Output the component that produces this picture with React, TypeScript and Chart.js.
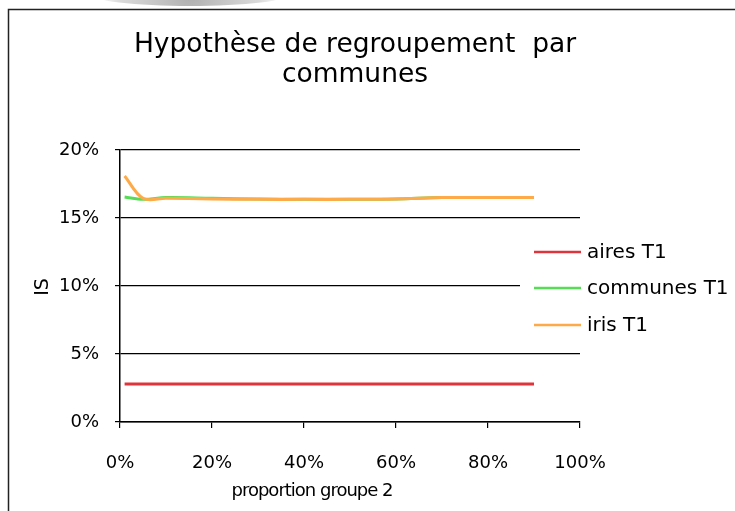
import React, { useEffect, useRef } from "react";
import { Chart, registerables } from "chart.js";

Chart.register(...registerables);

const proportions = [0.01, 0.05, 0.1, 0.2, 0.3, 0.4, 0.5, 0.6, 0.7, 0.8, 0.9];
const airesT1 = [0.028, 0.028, 0.028, 0.028, 0.028, 0.028, 0.028, 0.028, 0.028, 0.028, 0.028];
const communesT1 = [0.1655, 0.1637, 0.165, 0.1645, 0.164, 0.1638, 0.1638, 0.164, 0.165, 0.165, 0.165];
const irisT1 = [0.1809, 0.1645, 0.1645, 0.164, 0.1637, 0.1637, 0.1637, 0.164, 0.165, 0.165, 0.165];
const seriesNames = ["aires T1", "communes T1", "iris T1"];
const seriesColors = ["#e0343c", "#55dd55", "#ffaa48"];
const titleLines = ["Hypothèse de regroupement  par", "communes"];
const xTitle = "proportion groupe 2";
const yTitle = "IS";

const FONT = "'DejaVu Sans', Verdana, sans-serif";

const decorPlugin = {
  id: "decor",
  beforeDraw(chart: any) {
    const ctx = chart.ctx;
    ctx.save();
    ctx.fillStyle = "#ffffff";
    ctx.fillRect(0, 0, chart.width, chart.height);
    // grey smudge at top
    const g = ctx.createRadialGradient(190, -6, 0, 190, -6, 100);
    g.addColorStop(0, "rgba(160,160,160,0.85)");
    g.addColorStop(0.7, "rgba(180,180,180,0.5)");
    g.addColorStop(1, "rgba(210,210,210,0)");
    ctx.fillStyle = g;
    ctx.beginPath();
    ctx.ellipse(190, -6, 100, 12, 0, 0, Math.PI * 2);
    ctx.fill();
    // frame
    ctx.strokeStyle = "#222";
    ctx.lineWidth = 1.5;
    ctx.strokeRect(8.5, 9.5, chart.width + 20, chart.height + 20);
    ctx.restore();
  },
  afterDraw(chart: any) {
    const ctx = chart.ctx;
    ctx.save();
    ctx.fillStyle = "#000";
    ctx.textAlign = "center";
    ctx.textBaseline = "middle";
    ctx.font = `26.5px ${FONT}`;
    ctx.fillText(titleLines[0], 355, 45);
    ctx.fillText(titleLines[1], 355, 75);
    // x title
    ctx.font = `18px ${FONT}`;
    (ctx as any).letterSpacing = "-1px";
    ctx.fillText(xTitle, 312, 491);
    (ctx as any).letterSpacing = "0px";
    // y title
    ctx.save();
    ctx.translate(43, 287);
    ctx.rotate(-Math.PI / 2);
    ctx.font = `19px ${FONT}`;
    ctx.fillText(yTitle, 0, 0);
    ctx.restore();
    // legend
    ctx.fillStyle = "#ffffff";
    ctx.fillRect(520, 234, 215, 108);
    const rows = [252, 288, 325];
    ctx.font = `20px ${FONT}`;
    ctx.textAlign = "left";
    seriesNames.forEach((name, i) => {
      ctx.strokeStyle = seriesColors[i];
      ctx.lineWidth = 2.5;
      ctx.beginPath();
      ctx.moveTo(534, rows[i]);
      ctx.lineTo(581, rows[i]);
      ctx.stroke();
      ctx.fillStyle = "#000";
      ctx.fillText(name, 587, rows[i] + 1);
    });
    ctx.restore();
  },
};

export default function App() {
  const ref = useRef<HTMLCanvasElement>(null);
  useEffect(() => {
    if (!ref.current) return;
    const series = [airesT1, communesT1, irisT1];
    const chart = new Chart(ref.current, {
      type: "line",
      data: {
        datasets: series.map((vals, i) => ({
          label: seriesNames[i],
          data: proportions.map((p, j) => ({ x: p, y: vals[j] })),
          borderColor: seriesColors[i],
          backgroundColor: seriesColors[i],
          borderWidth: 3,
          pointRadius: 0,
          tension: 0.35,
          fill: false,
          order: series.length - i,
        })),
      },
      options: {
        responsive: false,
        animation: false,
        layout: { padding: { top: 150, right: 155, left: 0, bottom: 0 } },
        plugins: {
          legend: { display: false },
          title: { display: false },
          tooltip: { enabled: false },
        },
        scales: {
          x: {
            type: "linear",
            min: 0,
            max: 1,
            ticks: {
              stepSize: 0.2,
              callback: (v: any) => Math.round(v * 100) + "%",
              color: "#000",
              font: { family: FONT, size: 18 },
              padding: 25,
              maxRotation: 0,
            },
            grid: { drawOnChartArea: false, color: "#000", tickLength: 6, lineWidth: 1.2 },
            border: { color: "#000", width: 1.5 },
            afterFit: (s: any) => { s.height = 89; },
          },
          y: {
            min: 0,
            max: 0.2,
            ticks: {
              stepSize: 0.05,
              callback: (v: any) => Math.round(v * 100) + "%",
              color: "#000",
              font: { family: FONT, size: 18 },
              padding: 16,
            },
            grid: { color: "#000", tickLength: 5, lineWidth: 1.2 },
            border: { color: "#000", width: 1.5 },
            afterFit: (s: any) => { s.width = 120; },
          },
        },
      },
      plugins: [decorPlugin],
    });
    return () => chart.destroy();
  }, []);
  return (
    <div style={{ position: "fixed", left: 0, top: 0, width: 735, height: 511 }}>
      <canvas ref={ref} width={735} height={511} style={{ display: "block" }} />
    </div>
  );
}
